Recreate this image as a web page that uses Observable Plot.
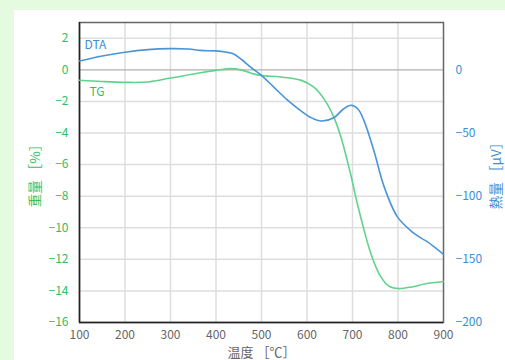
<!DOCTYPE html>
<html>
<head>
<meta charset="utf-8">
<script src="https://cdn.jsdelivr.net/npm/d3@7"></script>
<script src="https://cdn.jsdelivr.net/npm/@observablehq/plot@0.6"></script>
<style>
  html, body { margin: 0; padding: 0; background: #e4fbe0; width: 505px; height: 360px; overflow: hidden; }
  #chart { position: absolute; left: 14px; top: 10px; }
</style>
</head>
<body>
<div id="chart"></div>
<script>
// Temperature (°C) and TG weight change (%)
const tgTemp  = [100, 150, 200, 250, 300, 366, 400, 432, 455, 476, 498, 542, 586, 615, 637, 659, 675, 695, 710, 725, 740, 760, 780, 800, 830, 860, 900];
const tgValue = [-0.66, -0.74, -0.79, -0.77, -0.52, -0.18, -0.03, 0.08, 0.0, -0.2, -0.35, -0.45, -0.65, -1.09, -1.82, -2.99, -4.3, -6.5, -8.4, -10.1, -11.6, -13.0, -13.7, -13.85, -13.75, -13.55, -13.4];
// Temperature (°C) and DTA signal (μV)
const dtaTemp  = [100, 150, 200, 250, 300, 340, 366, 400, 421, 438, 455, 476, 498, 527, 556, 585, 610, 632, 659, 680, 697, 712, 725, 747, 769, 798, 827, 850, 864, 900];
const dtaValue = [7, 11, 14, 16, 16.8, 16.5, 15.4, 15, 14.1, 12.8, 8.6, 2.2, -3.8, -13.6, -23.6, -32, -38, -40.5, -37.9, -31, -28, -31, -40, -64, -92, -116, -127, -133, -136, -146];

const xTicks = [100, 200, 300, 400, 500, 600, 700, 800, 900];
const leftTicks = [-16, -14, -12, -10, -8, -6, -4, -2, 0, 2];
const rightTicks = [-200, -150, -100, -50, 0];
const seriesNames = ["DTA", "TG"];

const ratio = 12.5; // μV per %
const green = "#2fbf62";
const blue = "#3a8fd6";
const tgLine = "#5fd38c";
const dtaLine = "#4a95d8";

const tg = tgTemp.map((t, i) => ({t, v: tgValue[i]}));
const dta = dtaTemp.map((t, i) => ({t, v: dtaValue[i] / ratio}));
const fmt = d => (d < 0 ? "\u2212" : "") + Math.abs(Math.round(d));

const chart = Plot.plot({
  width: 491,
  height: 350,
  marginLeft: 65,
  marginRight: 62,
  marginTop: 12,
  marginBottom: 38,
  style: {background: "white", fontFamily: "'Noto Sans CJK JP', sans-serif", fontSize: "12px"},
  x: {domain: [100, 900]},
  y: {domain: [-16, 3]},
  marks: [
    Plot.gridX(xTicks.slice(1, -1), {stroke: "#dedede", strokeOpacity: 1, strokeWidth: 1.5}),
    Plot.gridY(leftTicks.filter(d => d !== 0 && d !== -16), {stroke: "#dedede", strokeOpacity: 1, strokeWidth: 1.5}),
    Plot.ruleY([0], {stroke: "#b0b0b0", strokeWidth: 1.2}),
    Plot.frame({stroke: "#666", strokeWidth: 1.5}),
    Plot.ruleX([100], {stroke: "#222", strokeWidth: 1.5}),
    Plot.ruleY([-16], {stroke: "#222", strokeWidth: 1.5}),
    Plot.axisX(xTicks, {tickSize: 0, tickPadding: 8, color: "#666", label: null}),
    Plot.axisX([], {color: "#666", fontSize: 13, label: "温度 ［℃］", labelAnchor: "center", labelOffset: 34, labelArrow: "none"}),
    Plot.axisY(leftTicks, {anchor: "left", tickSize: 0, tickPadding: 11, color: green, tickFormat: fmt, label: null}),
    Plot.axisY([], {anchor: "left", color: green, fontSize: 13.5, label: "重量 ［%］", labelAnchor: "center", labelOffset: 49, labelArrow: "none"}),
    Plot.axisY(rightTicks.map(d => d / ratio), {anchor: "right", tickSize: 0, tickPadding: 12, color: blue, tickFormat: d => fmt(d * ratio), label: null}),
    Plot.axisY([], {anchor: "right", color: blue, fontSize: 13.5, label: "熱量 ［μV］", labelAnchor: "center", labelOffset: 57, labelArrow: "none"}),
    Plot.line(tg, {x: "t", y: "v", stroke: tgLine, strokeWidth: 1.6, curve: "catmull-rom"}),
    Plot.line(dta, {x: "t", y: "v", stroke: dtaLine, strokeWidth: 1.6, curve: "catmull-rom"}),
    Plot.text([dta[0]], {x: "t", y: "v", text: () => seriesNames[0], fill: blue, dx: 5, dy: -16, textAnchor: "start", fontSize: 12}),
    Plot.text([tg[0]], {x: "t", y: "v", text: () => seriesNames[1], fill: green, dx: 10, dy: 12, textAnchor: "start", fontSize: 12})
  ]
});
document.getElementById("chart").appendChild(chart);
</script>
</body>
</html>
